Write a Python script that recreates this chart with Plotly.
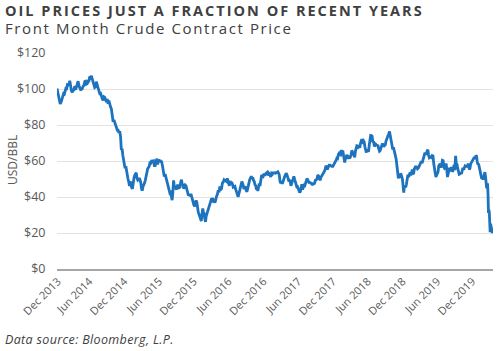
import plotly.graph_objects as go
import pandas as pd

# ---- data: front month WTI crude, USD/BBL ----
start_dates = ["2013-12-27", "2013-12-31"]
start_prices = [100.3, 98.4]

# each year: 12 monthly groups (Jan..Dec) of successive readings within the month
prices_2014 = [
    [95.4, 93.7, 91.7, 92.6, 94.4, 96.6, 97.5],
    [97.2, 99.9, 100.4, 100.3, 102.4, 102.2, 102.6],
    [104.6, 101.5, 98.9, 98.2, 99.5, 99.5, 101.6],
    [99.6, 101.1, 103.6, 104.3, 101.8, 101.0, 99.7],
    [99.8, 100.2, 101.5, 102.0, 104.1, 104.3, 102.7],
    [103.0, 104.4, 104.4, 106.9, 106.4, 107.3, 105.7],
    [104.1, 103.5, 100.8, 101.2, 104.1, 102.1, 100.0],
    [97.9, 97.4, 97.6, 95.6, 94.5, 93.7, 95.7],
    [95.4, 93.3, 92.7, 94.4, 91.8, 93.5, 91.2],
    [90.0, 88.9, 85.8, 81.8, 82.8, 81.4, 80.5],
    [78.8, 77.2, 77.2, 75.6, 76.5, 73.7, 66.2],
    [66.9, 63.1, 60.9, 57.8, 55.9, 57.1, 54.1, 53.3],
]
prices_2015 = [
    [50.0, 48.4, 46.1, 48.7, 46.4, 45.2, 44.5, 48.2],
    [50.5, 52.0, 52.8, 53.5, 50.3, 49.4, 49.8],
    [50.5, 49.6, 48.2, 44.8, 43.5, 45.7, 47.5, 47.6],
    [49.1, 51.6, 53.3, 55.7, 56.4, 57.2, 59.6],
    [59.1, 60.5, 59.7, 60.0, 57.5, 57.5, 60.3],
    [61.3, 58.0, 60.8, 59.5, 60.5, 59.6, 59.5],
    [56.9, 52.5, 51.4, 52.7, 50.9, 48.1, 47.1],
    [45.2, 43.9, 42.2, 42.5, 40.8, 38.2, 42.6, 49.2],
    [45.4, 46.1, 44.6, 44.7, 46.9, 45.0, 45.1],
    [45.5, 48.5, 49.6, 46.6, 47.3, 44.6, 45.9, 46.6],
    [46.1, 44.3, 43.9, 40.7, 41.7, 40.4, 41.7],
    [40.0, 37.6, 36.8, 35.6, 34.7, 36.1, 38.1, 37.0],
]
prices_2016 = [
    [33.2, 31.4, 30.4, 29.4, 28.5, 26.6, 30.3, 33.6],
    [31.6, 30.9, 27.9, 26.2, 29.4, 30.7, 32.8, 33.8],
    [34.6, 35.9, 37.9, 38.5, 38.3, 39.4, 36.9, 38.3],
    [36.8, 39.7, 40.4, 41.5, 43.7, 42.6, 45.9],
    [43.8, 44.7, 47.7, 48.3, 49.6, 49.3, 49.0],
    [48.6, 50.4, 49.1, 48.0, 46.2, 48.9, 47.6, 48.3],
    [47.4, 45.4, 45.7, 45.9, 44.2, 42.9, 41.6],
    [40.1, 41.8, 43.4, 44.5, 46.8, 48.5, 47.6, 44.7],
    [44.4, 45.5, 45.9, 43.6, 43.0, 44.5, 47.1, 48.2],
    [49.8, 50.4, 51.6, 50.3, 50.9, 49.2, 48.7, 46.9],
    [46.4, 44.1, 44.9, 43.4, 45.4, 47.5, 46.1, 49.4],
    [51.7, 51.9, 51.5, 52.9, 51.9, 53.0, 53.7],
]
prices_2017 = [
    [53.8, 52.0, 53.0, 52.4, 51.1, 53.2, 52.8],
    [53.8, 53.0, 53.9, 53.2, 53.4, 54.1, 54.0],
    [53.3, 52.2, 48.5, 47.7, 48.8, 47.3, 48.4, 50.6],
    [51.2, 52.2, 53.2, 52.4, 50.4, 49.2, 49.3],
    [48.8, 46.2, 47.8, 48.9, 50.3, 51.5, 49.8, 48.3],
    [47.7, 45.7, 45.8, 44.5, 43.2, 42.5, 43.0, 46.0],
    [47.1, 44.2, 45.0, 46.5, 46.3, 47.9, 49.0, 50.2],
    [49.6, 48.8, 47.6, 48.5, 47.4, 47.9, 46.6, 47.2],
    [47.3, 47.5, 49.3, 49.9, 49.9, 52.2, 51.7],
    [50.6, 49.3, 50.8, 51.5, 51.9, 52.6, 53.9, 54.4],
    [55.6, 57.4, 56.7, 55.3, 56.5, 58.0, 58.1, 57.3],
    [57.4, 57.4, 56.6, 57.3, 58.4, 58.5, 59.6, 60.4],
]
prices_2018 = [
    [61.6, 61.4, 63.6, 64.3, 63.7, 63.4, 66.1, 64.7],
    [65.8, 63.4, 61.2, 59.2, 61.7, 61.7, 63.5, 61.6],
    [61.3, 62.0, 61.4, 62.3, 63.4, 65.9, 64.9, 64.9],
    [63.5, 62.1, 65.5, 67.4, 68.5, 68.4, 67.7, 68.1],
    [67.3, 69.7, 71.1, 70.7, 72.2, 71.3, 70.7, 67.9],
    [65.8, 64.7, 66.4, 65.1, 65.1, 68.6, 70.5, 74.2],
    [74.1, 73.8, 70.4, 71.0, 68.1, 68.5, 69.3, 68.8],
    [68.8, 68.5, 66.8, 65.5, 65.9, 67.4, 69.5, 69.8],
    [67.8, 69.3, 68.6, 69.0, 71.1, 72.1, 72.3, 73.3],
    [75.3, 76.4, 74.3, 73.2, 71.3, 69.8, 66.4, 67.6, 65.3],
    [63.1, 62.7, 60.7, 56.5, 53.4, 50.4, 51.6, 50.9],
    [53.0, 52.6, 51.2, 49.9, 46.2, 42.5, 46.2, 45.3, 45.4],
]
prices_2019 = [
    [47.1, 49.8, 52.4, 51.1, 52.1, 53.7, 52.0, 53.8],
    [55.3, 52.7, 53.1, 55.6, 56.1, 57.3, 55.5, 57.2],
    [55.8, 56.2, 56.9, 58.3, 59.0, 59.8, 58.8, 60.1],
    [62.6, 63.1, 64.6, 63.9, 64.0, 65.7, 66.3, 63.3],
    [61.9, 62.3, 61.7, 61.8, 63.0, 62.8, 58.6, 53.5],
    [53.5, 51.1, 52.3, 52.5, 53.9, 57.4, 57.9, 58.5],
    [56.3, 57.5, 60.4, 60.2, 56.8, 55.9, 56.2, 58.6],
    [55.7, 51.1, 52.5, 54.5, 56.3, 55.4, 54.2, 56.7, 55.1],
    [53.9, 56.3, 57.9, 54.9, 62.9, 58.6, 58.1, 55.9],
    [54.1, 52.6, 52.8, 53.6, 52.8, 54.2, 56.2, 55.1],
    [56.2, 57.2, 56.9, 56.8, 57.1, 58.0, 58.4, 55.2],
    [56.0, 58.4, 59.2, 59.2, 60.2, 60.9, 61.7, 61.7, 61.1],
]
prices_2020 = [
    [63.1, 62.7, 59.6, 58.1, 58.5, 56.7, 53.1, 53.3, 51.6],
    [50.1, 50.9, 49.6, 51.4, 52.1, 53.8, 51.4, 47.7, 44.8],
    [46.8, 46.8, 41.3, 31.1, 32.9, 31.5, 26.9, 20.4, 25.2, 22.4, 24.0, 21.5, 20.1, 20.5],
]

tick_dates = ["2013-12-31", "2014-06-15", "2014-12-15", "2015-06-15", "2015-12-15",
              "2016-06-15", "2016-12-15", "2017-06-15", "2017-12-15", "2018-06-15",
              "2018-12-15", "2019-06-15", "2019-12-15"]
tick_labels = ["Dec 2013", "Jun 2014", "Dec 2014", "Jun 2015", "Dec 2015", "Jun 2016",
               "Dec 2016", "Jun 2017", "Dec 2017", "Jun 2018", "Dec 2018", "Jun 2019",
               "Dec 2019"]
y_ticks = [0, 20, 40, 60, 80, 100, 120]
y_labels = ["$0", "$20", "$40", "$60", "$80", "$100", "$120"]

# ---- build series ----
dates = [pd.Timestamp(d) for d in start_dates]
prices = list(start_prices)
years = {2014: prices_2014, 2015: prices_2015, 2016: prices_2016, 2017: prices_2017,
         2018: prices_2018, 2019: prices_2019, 2020: prices_2020}
for yr, groups in years.items():
    for m, vals in enumerate(groups, start=1):
        m0 = pd.Timestamp(year=yr, month=m, day=1)
        ndays = m0.days_in_month
        n = len(vals)
        for i, v in enumerate(vals):
            dates.append(m0 + pd.Timedelta(days=(i + 0.7) / n * ndays))
            prices.append(v)

fig = go.Figure()
fig.add_trace(go.Scatter(x=dates, y=prices, mode="lines",
                         line=dict(color="#1E73BE", width=2.8), hoverinfo="skip"))

L, R, T, B = 57, 7, 53, 82
PW, PH = 500 - L - R, 351 - T - B


def px(x):
    return (x - L) / PW


def py(y):
    return (351 - B - y) / PH


def spaced(s, ls):
    return '<span style="letter-spacing:%.2fpx">%s</span>' % (ls, s)


fig.update_layout(
    width=500, height=351,
    margin=dict(l=L, r=R, t=T, b=B),
    paper_bgcolor="white", plot_bgcolor="white",
    showlegend=False,
    font=dict(family="Open Sans", color="#595959"),
    xaxis=dict(
        type="date",
        range=["2013-12-27", "2020-04-02"],
        tickmode="array", tickvals=tick_dates, ticktext=tick_labels,
        tickangle=-45, tickfont=dict(size=11, color="#595959"),
        showgrid=False, showline=True, linecolor="#A6A6A6", linewidth=1.5,
        ticks="", zeroline=False,
    ),
    yaxis=dict(
        range=[0, 120], tickmode="array", tickvals=y_ticks, ticktext=y_labels,
        tickfont=dict(size=12.5, color="#595959"),
        showgrid=True, gridcolor="#E3E3E3", gridwidth=1,
        zeroline=False, showline=False, ticks="outside", ticklen=8,
        tickcolor="rgba(0,0,0,0)",
    ),
    annotations=[
        dict(text="<b>" + spaced("OIL PRICES JUST A FRACTION OF RECENT YEARS", 2.0) + "</b>",
             xref="paper", yref="paper", x=px(3), y=py(10.5),
             xanchor="left", yanchor="middle", showarrow=False,
             font=dict(family="Open Sans", size=14.5, color="#404040")),
        dict(text=spaced("Front Month Crude Contract Price", 1.6),
             xref="paper", yref="paper", x=px(3), y=py(28),
             xanchor="left", yanchor="middle", showarrow=False,
             font=dict(family="Open Sans", size=15, color="#404040")),
        dict(text="USD/BBL", textangle=-90,
             xref="paper", yref="paper", x=px(12), y=py(160),
             xanchor="center", yanchor="middle", showarrow=False,
             font=dict(family="Open Sans", size=12, color="#595959")),
        dict(text="<i>" + spaced("Data source: Bloomberg, L.P.", 0.35) + "</i>",
             xref="paper", yref="paper", x=px(3), y=py(339),
             xanchor="left", yanchor="middle", showarrow=False,
             font=dict(family="Open Sans", size=12.5, color="#404040")),
    ],
)

fig.write_html("out.html")
